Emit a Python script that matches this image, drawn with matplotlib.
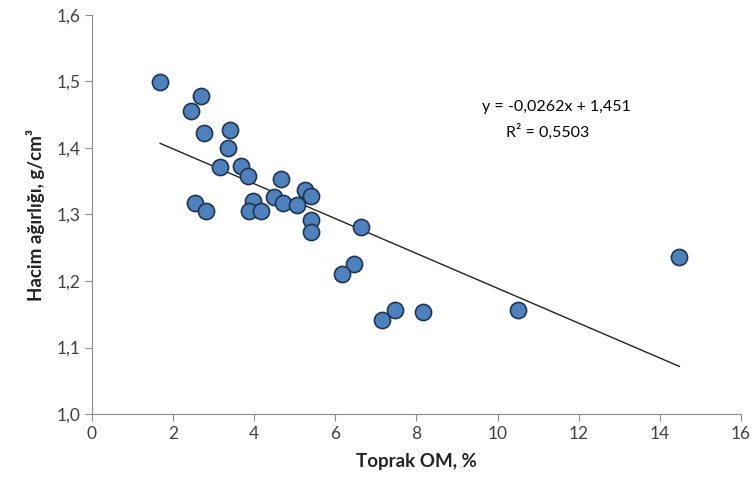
import matplotlib

matplotlib.use("Agg")
import matplotlib.pyplot as plt
from matplotlib.ticker import FuncFormatter, MultipleLocator

plt.rcParams["font.family"] = ["Lato", "DejaVu Sans"]

# organic matter (%) vs bulk density (g/cm3)
om = [1.68, 2.70, 2.44, 2.77, 3.41, 3.35, 3.15, 3.67, 3.84, 4.67,
      2.53, 2.80, 3.98, 3.87, 4.17, 4.49, 4.72, 5.05, 5.24, 5.39,
      5.41, 5.41, 6.62, 6.45, 6.16, 7.16, 7.46, 8.15, 10.50, 14.48]
density = [1.499, 1.478, 1.456, 1.423, 1.427, 1.400, 1.372, 1.373, 1.358, 1.354,
           1.318, 1.306, 1.321, 1.305, 1.306, 1.326, 1.317, 1.315, 1.337, 1.328,
           1.292, 1.273, 1.281, 1.226, 1.211, 1.141, 1.156, 1.153, 1.157, 1.236]

# linear trend as printed on the chart
slope = -0.0262
intercept = 1.451
r2 = 0.5503


def comma(v, _pos):
    return f"{v:.1f}".replace(".", ",")


fig = plt.figure(figsize=(7.52, 4.99), dpi=100)
ax = fig.add_axes([0.1223, 0.1703, 0.8631, 0.7997])

ax.scatter(om, density, s=135, color="#4f81bd", edgecolor="#1d3553",
           linewidth=1.2, zorder=3)

x_line = [min(om), max(om)]
ax.plot(x_line, [slope * x + intercept for x in x_line], color="#222222",
        linewidth=1.0, zorder=2)

eq = f"y = {slope:.4f}x + {intercept:.3f}".replace(".", ",")
ax.text(11.45, 1.461, eq, fontsize=11.5, ha="center", va="center")
ax.text(11.23, 1.424, f"R² = {r2:.4f}".replace(".", ","),
        fontsize=11.5, ha="center", va="center")

ax.set_xlim(0, 16)
ax.set_ylim(1.0, 1.6)
ax.xaxis.set_major_locator(MultipleLocator(2))
ax.yaxis.set_major_locator(MultipleLocator(0.1))
ax.yaxis.set_major_formatter(FuncFormatter(comma))

for side in ("top", "right"):
    ax.spines[side].set_visible(False)
for side in ("left", "bottom"):
    ax.spines[side].set_color("#8c8c8c")
ax.tick_params(colors="#8c8c8c", labelcolor="#404040", labelsize=12.5,
               length=5, direction="out")

ax.set_xlabel("Toprak OM, %", fontsize=13.5, fontweight="bold",
              color="#222222", labelpad=8)
ax.set_ylabel("Hacim ağırlığı, g/cm³", fontsize=13.5, fontweight="bold",
              color="#222222", labelpad=8)

fig.savefig("out.png", dpi=100)
